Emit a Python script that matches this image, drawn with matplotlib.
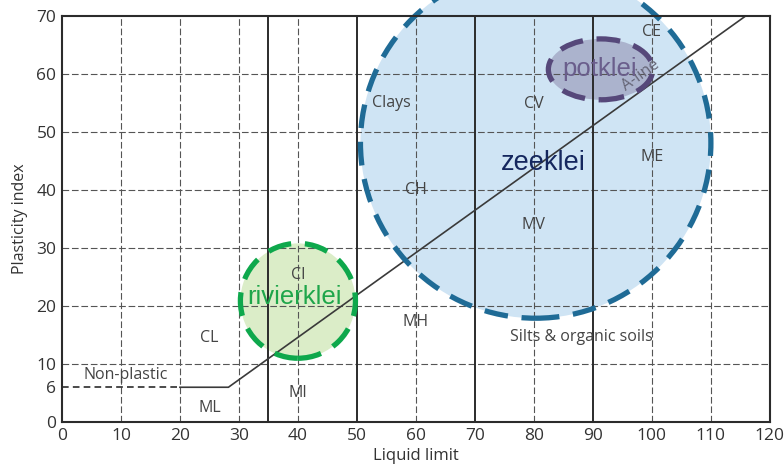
"""Casagrande plasticity chart with the three Dutch clay types marked."""
import numpy as np
import matplotlib.pyplot as plt
from matplotlib.patches import Ellipse

plt.rcParams["font.family"] = ["Open Sans", "DejaVu Sans"]

# classification zones: label, liquid limit, plasticity index
zone_labels = ["CL", "ML", "MI", "CI", "MH", "CH", "MV", "CV", "ME", "CE",
               "Clays", "Silts & organic soils", "Non-plastic"]
zone_ll = [25, 25, 40, 40, 60, 60, 80, 80, 100, 100, 55.8, 88, 10.8]
zone_pi = [14.5, 2.4, 5, 25.3, 17.2, 40, 34, 54.8, 45.7, 67.2, 55, 14.7, 8.1]

# boundaries between low/intermediate/high/very high/extremely high LL
ll_bounds = [35, 50, 70, 90]

# A-line: PI = 0.73 (LL - 20), cut off at PI = 6
a_slope, a_ll0, a_floor = 0.73, 20, 6

# soil ranges (ellipses): name, centre LL, centre PI, LL span, PI span
soils = ["rivierklei", "zeeklei", "potklei"]
soil_ll = [40.0, 80.3, 91.3]
soil_pi = [20.9, 48.1, 60.8]
soil_ll_span = [19.5, 59.4, 17.7]
soil_pi_span = [19.8, 60.4, 10.5]
label_ll = [39.5, 81.6, 91.2]
label_pi = [21.6, 44.7, 60.8]

fill_cols = ["#dbedc8", "#cfe4f4", "#8e8cae"]
fill_alpha = [1.0, 1.0, 0.55]
edge_cols = ["#0ea84c", "#1f6b96", "#56487a"]
text_cols = ["#1ea64a", "#15275e", "#6a5e8c"]
text_sizes = [18.5, 19.5, 18.5]

fig = plt.figure(figsize=(7.84, 4.70), dpi=100)
ax = fig.add_axes([0.079, 0.102, 0.903, 0.864])
ax.set_xlim(0, 120)
ax.set_ylim(0, 70)

# shaded soil ranges sit underneath the chart lines
for i in range(len(soils)):
    ax.add_patch(Ellipse((soil_ll[i], soil_pi[i]), soil_ll_span[i],
                         soil_pi_span[i], facecolor=fill_cols[i],
                         alpha=fill_alpha[i], edgecolor="none",
                         zorder=0.5 + 0.01 * i, clip_on=False))

grid_kw = dict(color="#555555", lw=0.8, ls=(0, (6, 2.5)), zorder=1)
for x in range(10, 120, 10):
    if x not in ll_bounds:
        ax.axvline(x, **grid_kw)
for y in range(10, 70, 10):
    ax.axhline(y, **grid_kw)
for x in ll_bounds:
    ax.axvline(x, color="#2b2b2b", lw=1.4, zorder=1.5)

# A-line
ll_bend = a_ll0 + a_floor / a_slope
ll_top = a_ll0 + 70 / a_slope
ax.plot([0, a_ll0], [a_floor, a_floor], color="#2b2b2b", lw=1.2,
        ls=(0, (4, 2.5)), zorder=2)
ax.plot([a_ll0, ll_bend, ll_top], [a_floor, a_floor, 70],
        color="#3a3a3a", lw=1.2, zorder=2)
ang = np.degrees(np.arctan(a_slope * (406 / 70) / (707 / 120)))
ax.text(98.1, 59.7, "A-line", rotation=ang, rotation_mode="anchor",
        ha="center", va="center", fontsize=11.5, color="#666677", zorder=2)

for lab, x, y in zip(zone_labels, zone_ll, zone_pi):
    ax.text(x, y, lab, ha="center", va="center", fontsize=11.5,
            color="#444444", zorder=2)

for i, name in enumerate(soils):
    ax.add_patch(Ellipse((soil_ll[i], soil_pi[i]), soil_ll_span[i],
                         soil_pi_span[i], facecolor="none",
                         edgecolor=edge_cols[i], lw=3.8, ls=(0, (4.5, 2.6)),
                         zorder=4, clip_on=False))
    ax.text(label_ll[i], label_pi[i], name, ha="center", va="center",
            fontsize=text_sizes[i], color=text_cols[i],
            family="Liberation Sans", zorder=5)

ax.set_xticks(range(0, 121, 10))
ax.set_yticks([0, 6, 10, 20, 30, 40, 50, 60, 70])
ax.tick_params(length=0, labelsize=12.5, labelcolor="#333333", pad=4)
for s in ax.spines.values():
    s.set_linewidth(1.5)
    s.set_color("#2b2b2b")
    s.set_zorder(6)
ax.set_xlabel("Liquid limit", fontsize=12, color="#333333", labelpad=3)
ax.set_ylabel("Plasticity index", fontsize=11.5, color="#333333", labelpad=6)

fig.savefig("out.png", dpi=100)
